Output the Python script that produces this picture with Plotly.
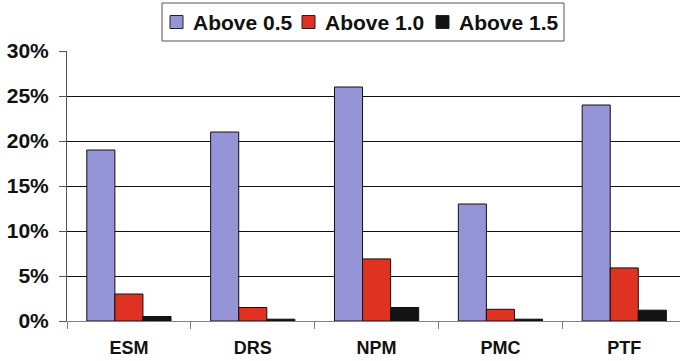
import plotly.graph_objects as go

# Share of cases exceeding each threshold, per method (percent)
methods = ["ESM", "DRS", "NPM", "PMC", "PTF"]
series_names = ["Above 0.5", "Above 1.0", "Above 1.5"]
above_05 = [19, 21, 26, 13, 24]
above_10 = [3.0, 1.5, 6.9, 1.3, 5.9]
above_15 = [0.5, 0.2, 1.5, 0.2, 1.2]
y_ticks = [0, 5, 10, 15, 20, 25, 30]

colors = ["#9494d6", "#e03222", "#141414"]
font_family = "Liberation Sans, Arial, sans-serif"

W, H = 680, 361
M_L, M_R, M_T, M_B = 67, 0, 51, 40
plot_w = W - M_L - M_R
plot_h = H - M_T - M_B


def px_to_paper(px, py):
    """Convert pixel position (from top-left of the figure) to paper coords."""
    return (px - M_L) / plot_w, (H - M_B - py) / plot_h


fig = go.Figure()
for name, vals, col in zip(series_names, [above_05, above_10, above_15], colors):
    fig.add_trace(go.Bar(
        x=methods, y=vals, name=name, showlegend=False,
        marker=dict(color=col, line=dict(color="#111111", width=1)),
    ))

# Boxed legend across the top
shapes = []
annotations = []
bx0, by0 = px_to_paper(162, 41)
bx1, by1 = px_to_paper(564, 3)
shapes.append(dict(type="rect", xref="paper", yref="paper",
                   x0=bx0, y0=by0, x1=bx1, y1=by1,
                   line=dict(color="#555555", width=1), fillcolor="white"))
swatch_left = [170, 302, 436]
for name, col, sx in zip(series_names, colors, swatch_left):
    x0, y0 = px_to_paper(sx, 28.5)
    x1, y1 = px_to_paper(sx + 13, 15.5)
    shapes.append(dict(type="rect", xref="paper", yref="paper",
                       x0=x0, y0=y0, x1=x1, y1=y1,
                       line=dict(color="#222222", width=1), fillcolor=col))
    tx, ty = px_to_paper(sx + 21, 22)
    annotations.append(dict(
        xref="paper", yref="paper", x=tx, y=ty,
        xanchor="left", yanchor="middle", showarrow=False,
        text=name,
        font=dict(size=21, family=font_family, color="#111111", weight="bold"),
    ))

fig.update_layout(
    width=W, height=H,
    margin=dict(l=M_L, r=M_R, t=M_T, b=M_B),
    paper_bgcolor="white", plot_bgcolor="white",
    barmode="group", bargap=0.32, bargroupgap=0,
    font=dict(family=font_family, color="#111111"),
    showlegend=False,
    shapes=shapes,
    annotations=annotations,
    xaxis=dict(
        type="category",
        range=[-0.5, 4.45],
        tickson="boundaries",
        ticks="outside", ticklen=7, tickcolor="#808080",
        showline=True, linecolor="#808080", linewidth=1,
        showgrid=False,
        ticklabelstandoff=10,
        tickfont=dict(size=18, family=font_family, color="#111111", weight="bold"),
    ),
    yaxis=dict(
        range=[0, 30],
        tickvals=y_ticks,
        ticktext=[f"{v}%" for v in y_ticks],
        ticks="outside", ticklen=7, tickcolor="#555555",
        showline=True, linecolor="#555555", linewidth=1,
        showgrid=True, gridcolor="#111111", gridwidth=1,
        zeroline=False,
        ticklabelstandoff=6,
        tickfont=dict(size=21, family=font_family, color="#111111", weight="bold"),
    ),
)

fig.write_html("out.html")
